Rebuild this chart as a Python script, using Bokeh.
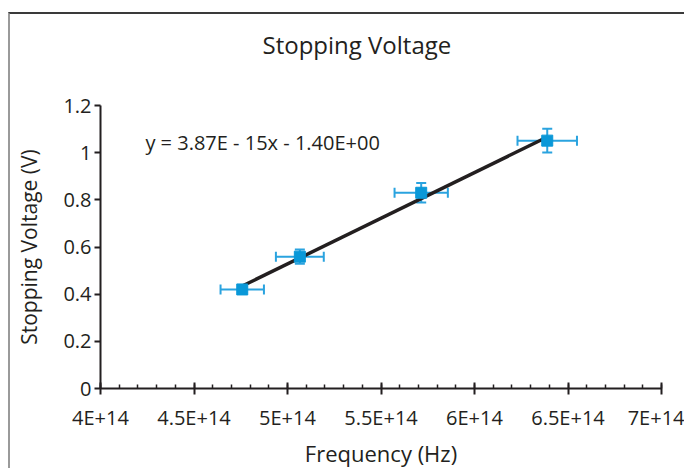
import numpy as np
from bokeh.plotting import figure
from bokeh.models import ColumnDataSource, Whisker, TeeHead, FixedTicker, Label, Title
from bokeh.embed import file_html
from bokeh.resources import INLINE

# Data
freq = [4.758e14, 5.066e14, 5.715e14, 6.389e14]
volt = [0.420, 0.559, 0.830, 1.051]
freq_err = [0.116e14, 0.128e14, 0.1425e14, 0.159e14]
volt_err = [0.012, 0.030, 0.041, 0.050]

x_ticks = [4.0e14, 4.5e14, 5.0e14, 5.5e14, 6.0e14, 6.5e14, 7.0e14]
x_labels = ["4E+14", "4.5E+14", "5E+14", "5.5E+14", "6E+14", "6.5E+14", "7E+14"]
y_ticks = [0, 0.2, 0.4, 0.6, 0.8, 1.0, 1.2]
y_labels = ["0", "0.2", "0.4", "0.6", "0.8", "1", "1.2"]
title = "Stopping Voltage"
equation = "y = 3.87E - 15x - 1.40E+00"

FONT = "Open Sans"
DARK = "#231f20"
BLUE = "#0a98d8"
ERR = "#2aa3df"

p = figure(width=676, height=456, output_backend="svg", toolbar_location=None,
           x_range=(4.0e14, 7.0e14), y_range=(0, 1.2),
           min_border_left=90, min_border_right=25, min_border_top=91, min_border_bottom=82)
p.margin = (12, 0, 0, 8)
p.styles = {"border-top": "2px solid #3a3a3a", "border-left": "2px solid #9a9a9a"}
p.outline_line_color = None
p.grid.visible = False

p.title.text = title
p.title.align = "left"
p.title.offset = 162
p.title.standoff = 10
p.title.text_font = FONT
p.title.text_font_size = "24px"
p.title.text_font_style = "normal"
p.title.text_color = DARK
# blank spacer between the frame and the title
p.add_layout(Title(text=" ", text_font=FONT, text_font_size="20px", standoff=11), "above")

# Axes
xa = p.xaxis[0]
xa.ticker = FixedTicker(ticks=x_ticks, minor_ticks=list(np.round(np.arange(40, 71) * 1e13, 0)))
xa.major_label_overrides = {t: l for t, l in zip(x_ticks, x_labels)}
xa.axis_label = "Frequency (Hz)"
ya = p.yaxis[0]
ya.ticker = FixedTicker(ticks=y_ticks, minor_ticks=[])
ya.major_label_overrides = {t: l for t, l in zip(y_ticks, y_labels)}
ya.axis_label = "Stopping Voltage (V)"
for ax in (xa, ya):
    ax.axis_line_color = DARK
    ax.axis_line_width = 2
    ax.major_tick_line_color = DARK
    ax.major_tick_line_width = 2
    ax.minor_tick_line_color = DARK
    ax.minor_tick_line_width = 1.5
    ax.major_label_text_font = FONT
    ax.major_label_text_font_size = "20px"
    ax.major_label_text_color = DARK
    ax.axis_label_text_font = FONT
    ax.axis_label_text_font_style = "normal"
    ax.axis_label_text_color = DARK
xa.axis_label_text_font_size = "22px"
ya.axis_label_text_font_size = "21px"
xa.major_tick_in = 6
xa.major_tick_out = 6
xa.minor_tick_in = 4
xa.minor_tick_out = 0
xa.major_label_standoff = 9
xa.axis_label_standoff = 4
ya.major_tick_in = 0
ya.major_tick_out = 6
ya.major_label_standoff = 3
ya.axis_label_standoff = 17

src = ColumnDataSource(dict(
    x=freq, y=volt,
    xl=[a - b for a, b in zip(freq, freq_err)], xu=[a + b for a, b in zip(freq, freq_err)],
    yl=[a - b for a, b in zip(volt, volt_err)], yu=[a + b for a, b in zip(volt, volt_err)],
))

# trendline (least squares over the data range)
m, c = np.polyfit(np.array(freq) / 1e14, np.array(volt), 1)
tx = [min(freq), max(freq)]
ty = [m * v / 1e14 + c for v in tx]
p.line(tx, ty, line_color=DARK, line_width=3.5)

p.add_layout(Whisker(source=src, base="y", lower="xl", upper="xu", dimension="width",
                     line_color=ERR, line_width=2,
                     lower_head=TeeHead(size=10, line_color=ERR, line_width=2),
                     upper_head=TeeHead(size=10, line_color=ERR, line_width=2)))
p.add_layout(Whisker(source=src, base="x", lower="yl", upper="yu", dimension="height",
                     line_color=ERR, line_width=2,
                     lower_head=TeeHead(size=10, line_color=ERR, line_width=2),
                     upper_head=TeeHead(size=10, line_color=ERR, line_width=2)))
p.scatter("x", "y", source=src, marker="square", size=11, fill_color=BLUE, line_color=BLUE)

p.add_layout(Label(x=4.24e14, y=1.041, text=equation, text_font=FONT, text_font_size="20px",
                   text_color=DARK, text_baseline="middle"))

open("out.html", "w").write(file_html(p, INLINE))
